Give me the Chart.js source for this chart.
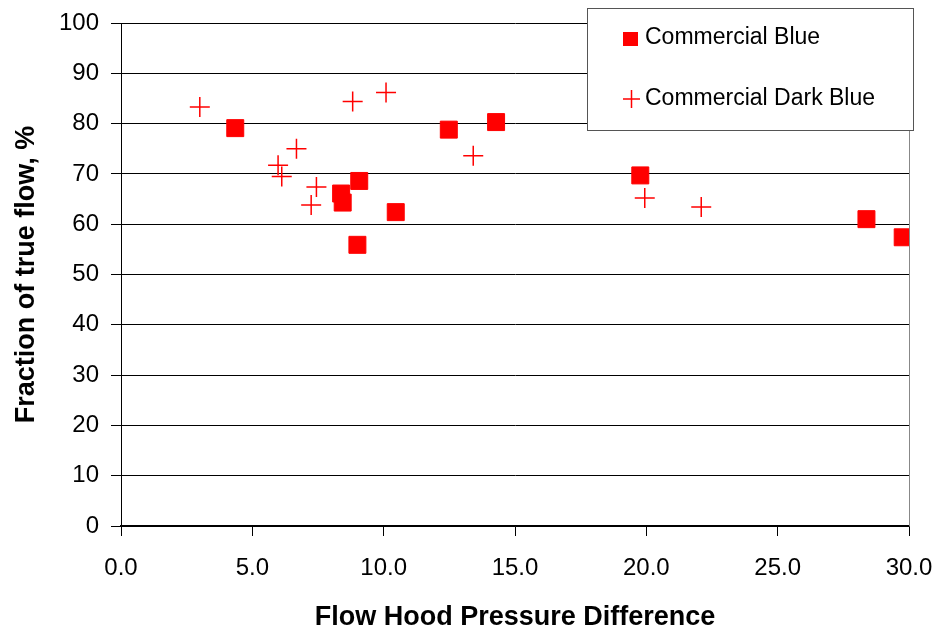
<!DOCTYPE html>
<html>
<head>
<meta charset="utf-8">
<script src="https://cdn.jsdelivr.net/npm/chart.js@4/dist/chart.umd.min.js"></script>
<style>
    html, body { margin: 0; padding: 0; background: #fff; }
    #wrap { width: 937px; height: 630px; }
</style>
</head>
<body>
<div id="wrap"><canvas id="scatterChart" width="937" height="630"></canvas></div>
<script>
// 数据
const blueX = [4.35, 8.38, 8.44, 9.07, 9.0, 10.46, 12.48, 14.28, 19.77, 28.38, 29.76];
const blueY = [79.1, 66.1, 64.3, 68.6, 55.9, 62.4, 78.8, 80.3, 69.7, 61.0, 57.4];
const darkX = [3.0, 6.68, 5.98, 6.12, 7.44, 7.24, 8.82, 10.09, 13.41, 19.94, 22.09];
const darkY = [83.3, 75.0, 71.7, 69.5, 67.4, 63.8, 84.4, 86.2, 73.6, 65.2, 63.4];
const seriesNames = ['Commercial Blue', 'Commercial Dark Blue'];
const xTicks = [0, 5, 10, 15, 20, 25, 30];
const yTicks = [0, 10, 20, 30, 40, 50, 60, 70, 80, 90, 100];

const toPoints = (xs, ys) => xs.map((x, i) => ({ x: x, y: ys[i] }));
const FONT = 'Liberation Sans, Arial, sans-serif';

// 图框 + 图例
const framePlugin = {
    id: 'frame',
    afterDraw(chart) {
        const ctx = chart.ctx;
        const a = chart.chartArea;
        ctx.save();
        ctx.strokeStyle = '#888';
        ctx.lineWidth = 1;
        ctx.beginPath();
        ctx.moveTo(a.right + 0.5, a.top);
        ctx.lineTo(a.right + 0.5, a.bottom);
        ctx.stroke();

        // 图例框
        ctx.fillStyle = '#fff';
        ctx.fillRect(587, 8, 326, 122);
        ctx.strokeStyle = '#555';
        ctx.strokeRect(587.5, 8.5, 326, 122);

        ctx.fillStyle = '#ff0000';
        ctx.fillRect(623, 32, 15, 14);
        ctx.strokeStyle = '#ff0000';
        ctx.lineWidth = 1.5;
        ctx.beginPath();
        ctx.moveTo(623, 99); ctx.lineTo(640, 99);
        ctx.moveTo(631.5, 90); ctx.lineTo(631.5, 108);
        ctx.stroke();

        ctx.fillStyle = '#000';
        ctx.font = '23px ' + FONT;
        ctx.textBaseline = 'middle';
        ctx.fillText(seriesNames[0], 645, 38);
        ctx.fillText(seriesNames[1], 645, 99);
        ctx.restore();
    }
};

const ctx = document.getElementById('scatterChart').getContext('2d');
new Chart(ctx, {
    type: 'scatter',
    data: {
        datasets: [
            {
                label: seriesNames[0],
                data: toPoints(blueX, blueY),
                pointStyle: 'rect',
                pointRadius: 12,
                backgroundColor: '#ff0000',
                borderColor: '#ff0000',
                borderWidth: 1,
            },
            {
                label: seriesNames[1],
                data: toPoints(darkX, darkY),
                pointStyle: 'cross',
                pointRadius: 10,
                borderColor: '#ff0000',
                borderWidth: 1.5,
            },
        ],
    },
    options: {
        responsive: false,
        animation: false,
        layout: { padding: { top: 23, right: 28, left: 0, bottom: 0 } },
        plugins: {
            legend: { display: false },
            tooltip: { enabled: false },
        },
        scales: {
            x: {
                type: 'linear',
                min: 0,
                max: 30,
                afterFit(scale) {
                    scale.height = 104;
                    scale.paddingLeft = 0;
                    scale.paddingRight = 0;
                },
                afterBuildTicks(scale) { scale.ticks = xTicks.map(v => ({ value: v })); },
                grid: {
                    drawOnChartArea: false,
                    drawTicks: true,
                    tickLength: 10,
                    color: '#000',
                },
                border: { color: '#000', width: 1.5 },
                ticks: {
                    color: '#000',
                    font: { family: FONT, size: 24 },
                    padding: 18,
                    maxRotation: 0,
                    callback: v => v.toFixed(1),
                },
                title: {
                    display: true,
                    text: 'Flow Hood Pressure Difference',
                    color: '#000',
                    font: { family: FONT, size: 27, weight: 'bold' },
                    padding: { top: 0, bottom: -4 },
                },
            },
            y: {
                min: 0,
                max: 100,
                afterFit(scale) {
                    scale.width = 121;
                    scale.paddingTop = 0;
                    scale.paddingBottom = 0;
                },
                afterBuildTicks(scale) { scale.ticks = yTicks.map(v => ({ value: v })); },
                grid: {
                    color: '#000',
                    lineWidth: 1,
                    tickLength: 10,
                },
                border: { color: '#000', width: 1 },
                ticks: {
                    color: '#000',
                    font: { family: FONT, size: 24 },
                    padding: 12,
                },
                title: {
                    display: true,
                    text: 'Fraction of true flow, %',
                    color: '#000',
                    font: { family: FONT, size: 27, weight: 'bold' },
                    padding: { top: 10, bottom: 0 },
                },
            },
        },
    },
    plugins: [framePlugin],
});
</script>
</body>
</html>
